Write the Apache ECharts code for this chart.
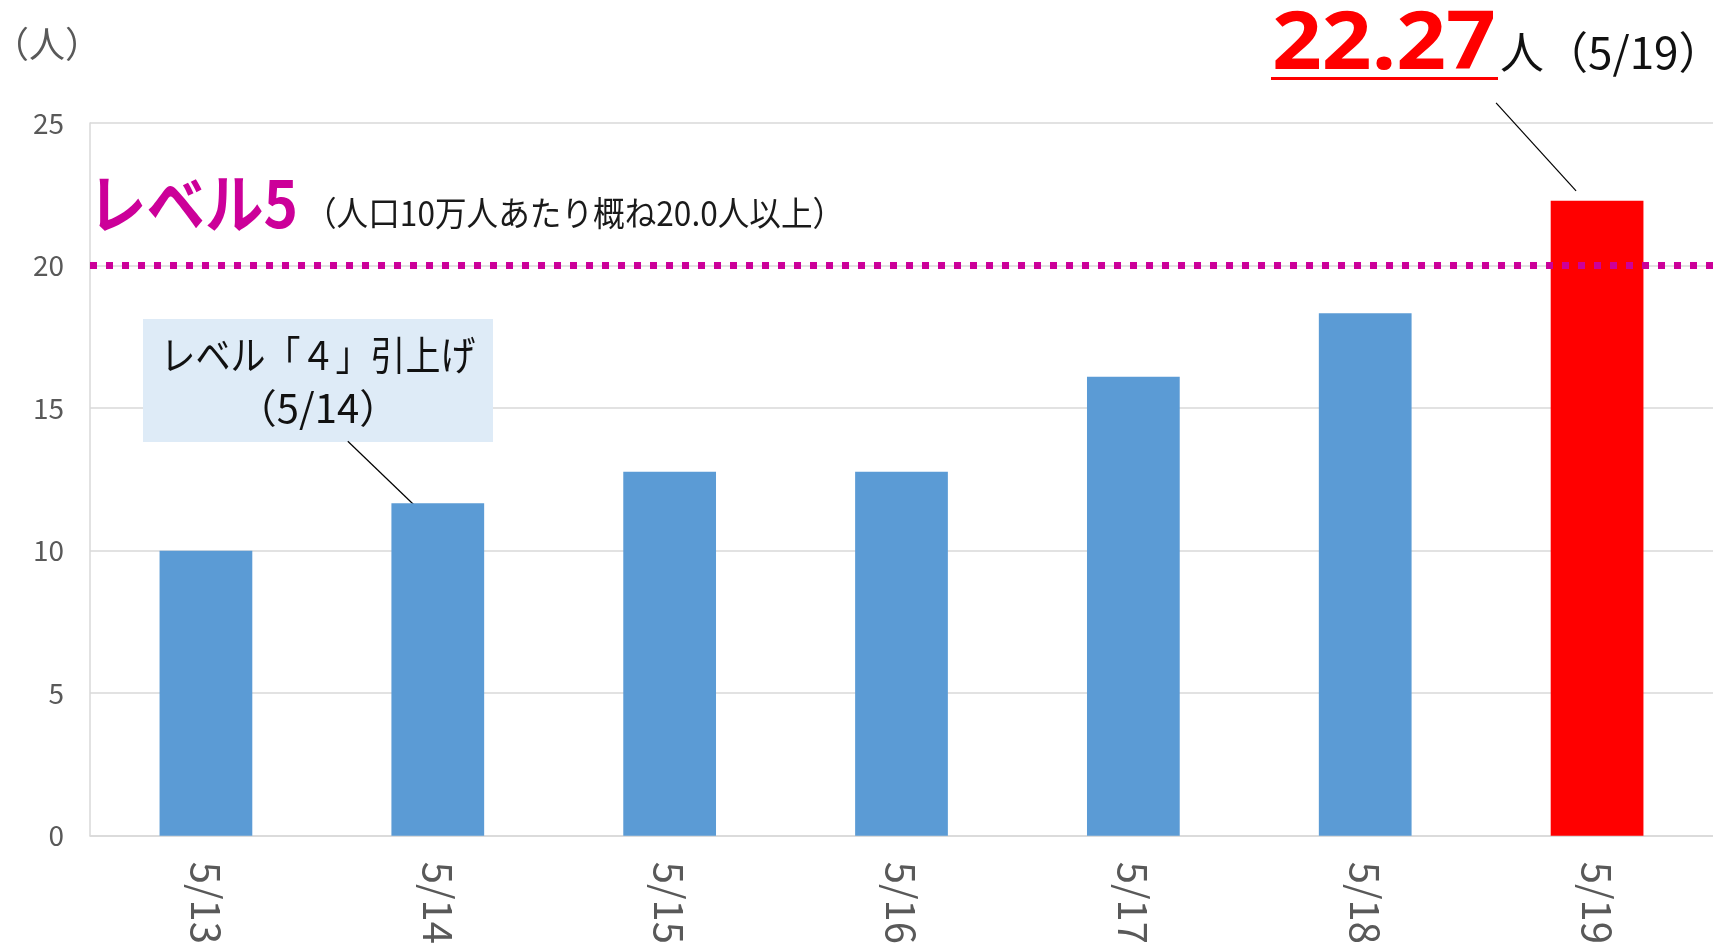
<!DOCTYPE html>
<html>
<head>
<meta charset="utf-8">
<script src="https://cdn.jsdelivr.net/npm/echarts@6/dist/echarts.min.js"></script>
<style>
html,body{margin:0;padding:0;background:#fff;}
#main{width:1713px;height:947px;}
</style>
</head>
<body>
<div id="main"></div>
<script>
const categories = ['5/13', '5/14', '5/15', '5/16', '5/17', '5/18', '5/19'];
const values = [10.0, 11.66, 12.77, 12.77, 16.10, 18.33, 22.27];
const highlightIndex = 6;
const calloutIndex = 1;
const yMin = 0, yMax = 25, yInterval = 5;
const levelValue = 20;
const unitLabel = '（人）';
const levelTitle = 'レベル5';
const levelNote = '（人口10万人あたり概ね20.0人以上）';
const calloutLines = ['レベル「４」引上げ', '（5/14）'];
const latestSuffix = '人（' + categories[highlightIndex] + '）';

const JP = '"Noto Sans CJK JP", "Noto Sans", sans-serif';
const chart = echarts.init(document.getElementById('main'));

const option = {
  animation: false,
  backgroundColor: '#ffffff',
  grid: { left: 90, right: -5, top: 123, bottom: 109.5, containLabel: false },
  xAxis: {
    type: 'category',
    data: categories,
    axisLine: { show: true, lineStyle: { color: '#d9d9d9', width: 1.5 } },
    axisTick: { show: false },
    axisLabel: { rotate: -90, margin: 26, fontSize: 40, color: '#595959', fontFamily: JP, interval: 0 }
  },
  yAxis: {
    type: 'value',
    min: yMin, max: yMax, interval: yInterval,
    axisLine: { show: true, lineStyle: { color: '#d9d9d9', width: 1.5 } },
    axisTick: { show: false },
    axisLabel: { fontSize: 28, color: '#595959', fontFamily: JP, margin: 26 },
    splitLine: { lineStyle: { color: '#d9d9d9', width: 1.5 } }
  },
  series: [{
    type: 'bar',
    barWidth: '40%',
    data: values.map((v, i) => i === highlightIndex ? { value: v, itemStyle: { color: '#FF0000' } } : v),
    itemStyle: { color: '#5B9BD5' },
    markLine: {
      silent: true,
      symbol: ['none', 'none'],
      label: { show: false },
      lineStyle: { color: '#CC0099', width: 7, type: [7, 9], opacity: 1 },
      emphasis: { disabled: true },
      data: [{ yAxis: levelValue }]
    }
  }]
};
chart.setOption(option);

const pC = chart.convertToPixel({ seriesIndex: 0 }, [calloutIndex, values[calloutIndex]]);
const pH = chart.convertToPixel({ seriesIndex: 0 }, [highlightIndex, values[highlightIndex]]);

chart.setOption({
  graphic: [
    { type: 'text', x: -7, y: 44, style: { text: unitLabel, font: '36px ' + JP, fill: '#595959', verticalAlign: 'middle' } },
    { type: 'text', x: 88, y: 203, scaleX: 0.9, style: { text: levelTitle, font: 'bold 65px ' + JP, fill: '#CC0099', verticalAlign: 'middle' } },
    { type: 'text', x: 305, y: 213, scaleX: 0.93, style: { text: levelNote, font: '34px ' + JP, fill: '#1a1a1a', verticalAlign: 'middle' } },
    { type: 'rect', shape: { x: 143, y: 319, width: 350, height: 123 }, style: { fill: '#DEEBF7' } },
    { type: 'text', x: 318, y: 355, scaleX: 0.875, style: { text: calloutLines[0], font: '40px ' + JP, fill: '#111', align: 'center', verticalAlign: 'middle' } },
    { type: 'text', x: 318, y: 408, style: { text: calloutLines[1], font: '40px ' + JP, fill: '#111', align: 'center', verticalAlign: 'middle' } },
    { type: 'line', shape: { x1: pC[0] - 90, y1: pC[1] - 62, x2: pC[0] - 12, y2: pC[1] + 13 }, style: { stroke: '#000', lineWidth: 1.2 } },
    { type: 'text', x: 1496, y: 46.5, scaleX: 1.09, style: { text: values[highlightIndex].toFixed(2), font: 'bold 80px "Noto Sans", sans-serif', fill: '#FF0000', align: 'right', verticalAlign: 'middle' } },
    { type: 'rect', shape: { x: 1271, y: 77, width: 227, height: 3 }, style: { fill: '#FF0000' } },
    { type: 'text', x: 1500, y: 52, style: { text: latestSuffix, font: '44px ' + JP, fill: '#111', verticalAlign: 'middle' } },
    { type: 'line', shape: { x1: pH[0] - 101, y1: pH[1] - 98, x2: pH[0] - 21, y2: pH[1] - 10 }, style: { stroke: '#000', lineWidth: 1.2 } }
  ]
});
</script>
</body>
</html>
